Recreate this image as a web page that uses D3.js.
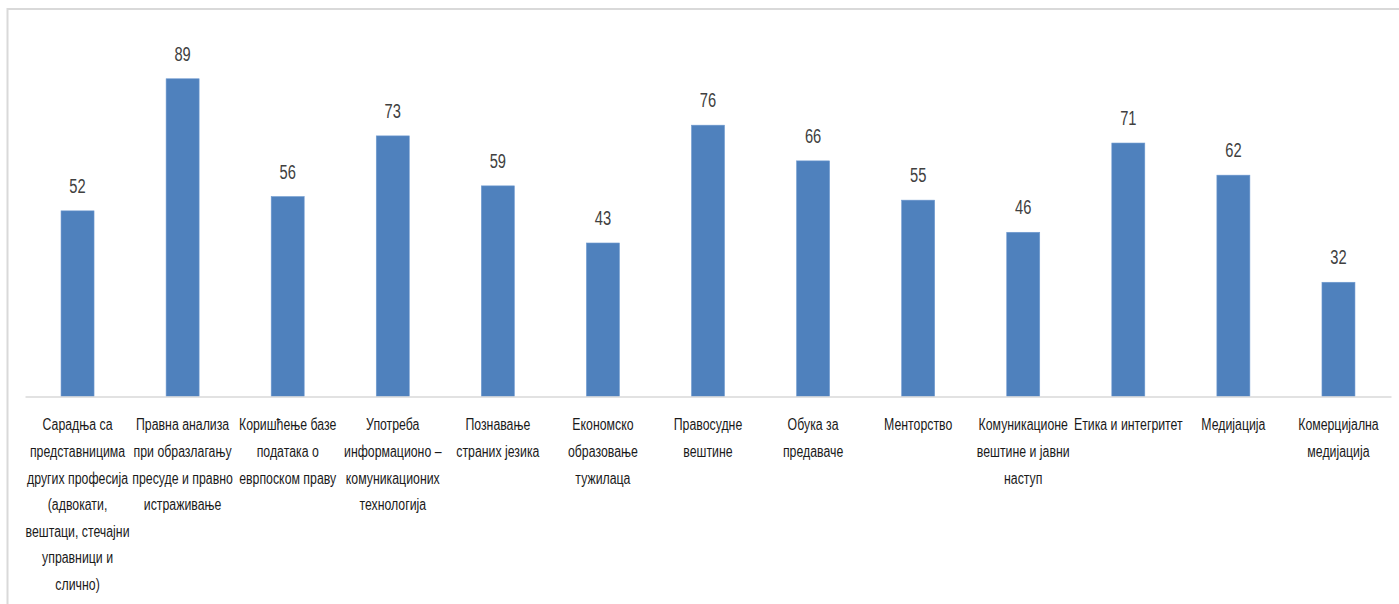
<!DOCTYPE html>
<html><head><meta charset="utf-8">
<script src="https://cdn.jsdelivr.net/npm/d3@7"></script>
<style>html,body{margin:0;padding:0;background:#fff;overflow:hidden}</style>
</head><body>
<svg id="c" width="1399" height="604"></svg>
<script>
const categories = [
  "Сарадња са\nпредставницима\nдругих професија\n(адвокати,\nвештаци, стечајни\nуправници и\nслично)",
  "Правна анализа\nпри образлагању\nпресуде и правно\nистраживање",
  "Коришћење базе\nподатака о\nеврпоском праву",
  "Употреба\nинформационо –\nкомуникационих\nтехнологија",
  "Познавање\nстраних језика",
  "Економско\nобразовање\nтужилаца",
  "Правосудне\nвештине",
  "Обука за\nпредаваче",
  "Менторство",
  "Комуникационе\nвештине и јавни\nнаступ",
  "Етика и интегритет",
  "Медијација",
  "Комерцијална\nмедијација"
];
const values = [52, 89, 56, 73, 59, 43, 76, 66, 55, 46, 71, 62, 32];

const svg = d3.select("#c");
const font = "'Liberation Sans', Arial, sans-serif";

// frame
svg.append("rect").attr("x", 7.5).attr("y", 9).attr("width", 1420).attr("height", 620)
  .attr("fill", "none").attr("stroke", "#d9d9d9").attr("stroke-width", 2);

const x = d3.scaleBand().domain(d3.range(categories.length)).range([25, 1391])
  .paddingInner(0.686).paddingOuter(0.343);
const y = d3.scaleLinear().domain([0, 100]).range([396.5, 39.5]);

svg.selectAll("rect.bar").data(values).join("rect").attr("class", "bar")
  .attr("x", (d, i) => x(i)).attr("width", x.bandwidth())
  .attr("y", d => y(d)).attr("height", d => y(0) - y(d))
  .attr("fill", "#4f81bd").attr("stroke", "#6f9ad0").attr("stroke-width", 0.6);

// axis
const axis = svg.append("g").attr("transform", `translate(0,${y(0)})`)
  .call(d3.axisBottom(x).tickSize(0).tickFormat(""));
axis.select(".domain").attr("stroke", "#d9d9d9").attr("stroke-width", 1.5);

// value labels (condensed)
svg.selectAll("g.val").data(values).join("g").attr("class", "val")
  .attr("transform", (d, i) => `translate(${x(i) + x.bandwidth() / 2},${y(d) - 18}) scale(0.7,1)`)
  .append("text").attr("text-anchor", "middle").attr("font-family", font).attr("font-size", 21)
  .attr("fill", "#404040").text(d => d);

// category labels (condensed)
categories.forEach((c, i) => {
  const g = svg.append("g")
    .attr("transform", `translate(${x(i) + x.bandwidth() / 2},0) scale(0.77,1)`);
  const t = g.append("text").attr("text-anchor", "middle").attr("font-family", font)
    .attr("font-size", 16).attr("fill", "#1a1a1a");
  c.split("\n").forEach((ln, k) => {
    t.append("tspan").attr("x", 0).attr("y", 430.5 + k * 26.6).text(ln);
  });
});
</script>
</body></html>
